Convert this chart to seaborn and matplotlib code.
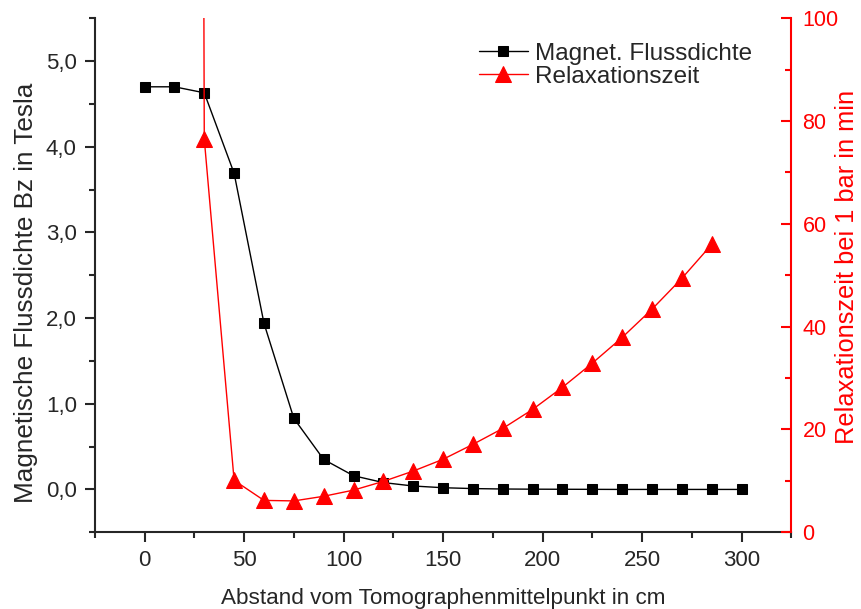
import numpy as np
import pandas as pd
import matplotlib
matplotlib.use('Agg')
import matplotlib.pyplot as plt
import seaborn as sns
from matplotlib.ticker import MultipleLocator, FuncFormatter

# distance from tomograph centre in cm
abstand_b = [0, 15, 30, 45, 60, 75, 90, 105, 120, 135, 150, 165, 180, 195,
             210, 225, 240, 255, 270, 285, 300]
# magnetic flux density in Tesla
flussdichte = [4.70, 4.70, 4.63, 3.69, 1.94, 0.83, 0.35, 0.16, 0.08, 0.04,
               0.02, 0.01, 0.005, 0.003, 0.002, 0.001, 0.0, 0.0, 0.0, 0.0, 0.0]

# relaxation time at 1 bar in min (first point lies far above the plot)
abstand_r = [15, 30, 45, 60, 75, 90, 105, 120, 135, 150, 165, 180, 195,
             210, 225, 240, 255, 270, 285]
relaxation = [2000, 76.5, 10.1, 6.2, 6.1, 7.0, 8.2, 9.9, 11.9, 14.2, 17.1,
              20.2, 23.9, 28.2, 32.9, 37.9, 43.4, 49.4, 56.0]

df_b = pd.DataFrame({'x': abstand_b, 'y': flussdichte})
df_r = pd.DataFrame({'x': abstand_r, 'y': relaxation})

sns.set_style('ticks')
plt.rcParams['font.family'] = ['Liberation Sans', 'DejaVu Sans']

fig = plt.figure(figsize=(8.62, 6.09), dpi=100)
ax = fig.add_axes([0.110, 0.126, 0.808, 0.844])
ax2 = ax.twinx()

sns.lineplot(data=df_b, x='x', y='y', ax=ax, color='black', lw=1,
             marker='s', markersize=7.5, markeredgecolor='black',
             label='Magnet. Flussdichte', legend=False)
sns.lineplot(data=df_r, x='x', y='y', ax=ax2, color='red', lw=1,
             marker='^', markersize=11.5, markeredgecolor='red',
             label='Relaxationszeit', legend=False)

ax.set_xlim(-25, 325)
ax.set_ylim(-0.5, 5.5)
ax2.set_ylim(0, 100)

ax.xaxis.set_major_locator(MultipleLocator(50))
ax.xaxis.set_minor_locator(MultipleLocator(25))
ax.yaxis.set_major_locator(MultipleLocator(1))
ax.yaxis.set_minor_locator(MultipleLocator(0.5))
ax.yaxis.set_major_formatter(FuncFormatter(lambda v, p: f'{v:.1f}'.replace('.', ',')))
ax2.yaxis.set_major_locator(MultipleLocator(20))
ax2.yaxis.set_minor_locator(MultipleLocator(10))

for a in (ax, ax2):
    a.tick_params(which='major', length=7, width=1.5, labelsize=16, pad=6)
    a.tick_params(which='minor', length=4, width=1.5)
    a.spines['top'].set_visible(False)
    for s in a.spines.values():
        s.set_linewidth(1.5)

ax.spines['right'].set_visible(False)
ax2.spines['left'].set_visible(False)
ax2.spines['bottom'].set_visible(False)
ax2.spines['right'].set_color('red')
ax2.tick_params(axis='y', which='both', colors='red', direction='in',
                labelsize=15.5, pad=8)

ax.set_xlabel('Abstand vom Tomographenmittelpunkt in cm', fontsize=16.2, labelpad=12)
ax.set_ylabel('Magnetische Flussdichte Bz in Tesla', fontsize=18.8)
ax.yaxis.set_label_coords(-0.081, 0.465)
ax2.set_ylabel('Relaxationszeit bei 1 bar in min', fontsize=18.3, color='red')
ax2.yaxis.set_label_coords(1.063, 0.517)

h1, l1 = ax.get_legend_handles_labels()
h2, l2 = ax2.get_legend_handles_labels()
ax2.legend(h1 + h2, l1 + l2, loc='upper right', bbox_to_anchor=(0.975, 0.995),
           frameon=False, fontsize=17.5, handlelength=2.0, handletextpad=0.3,
           labelspacing=0.05)

fig.savefig('out.png', dpi=100)
